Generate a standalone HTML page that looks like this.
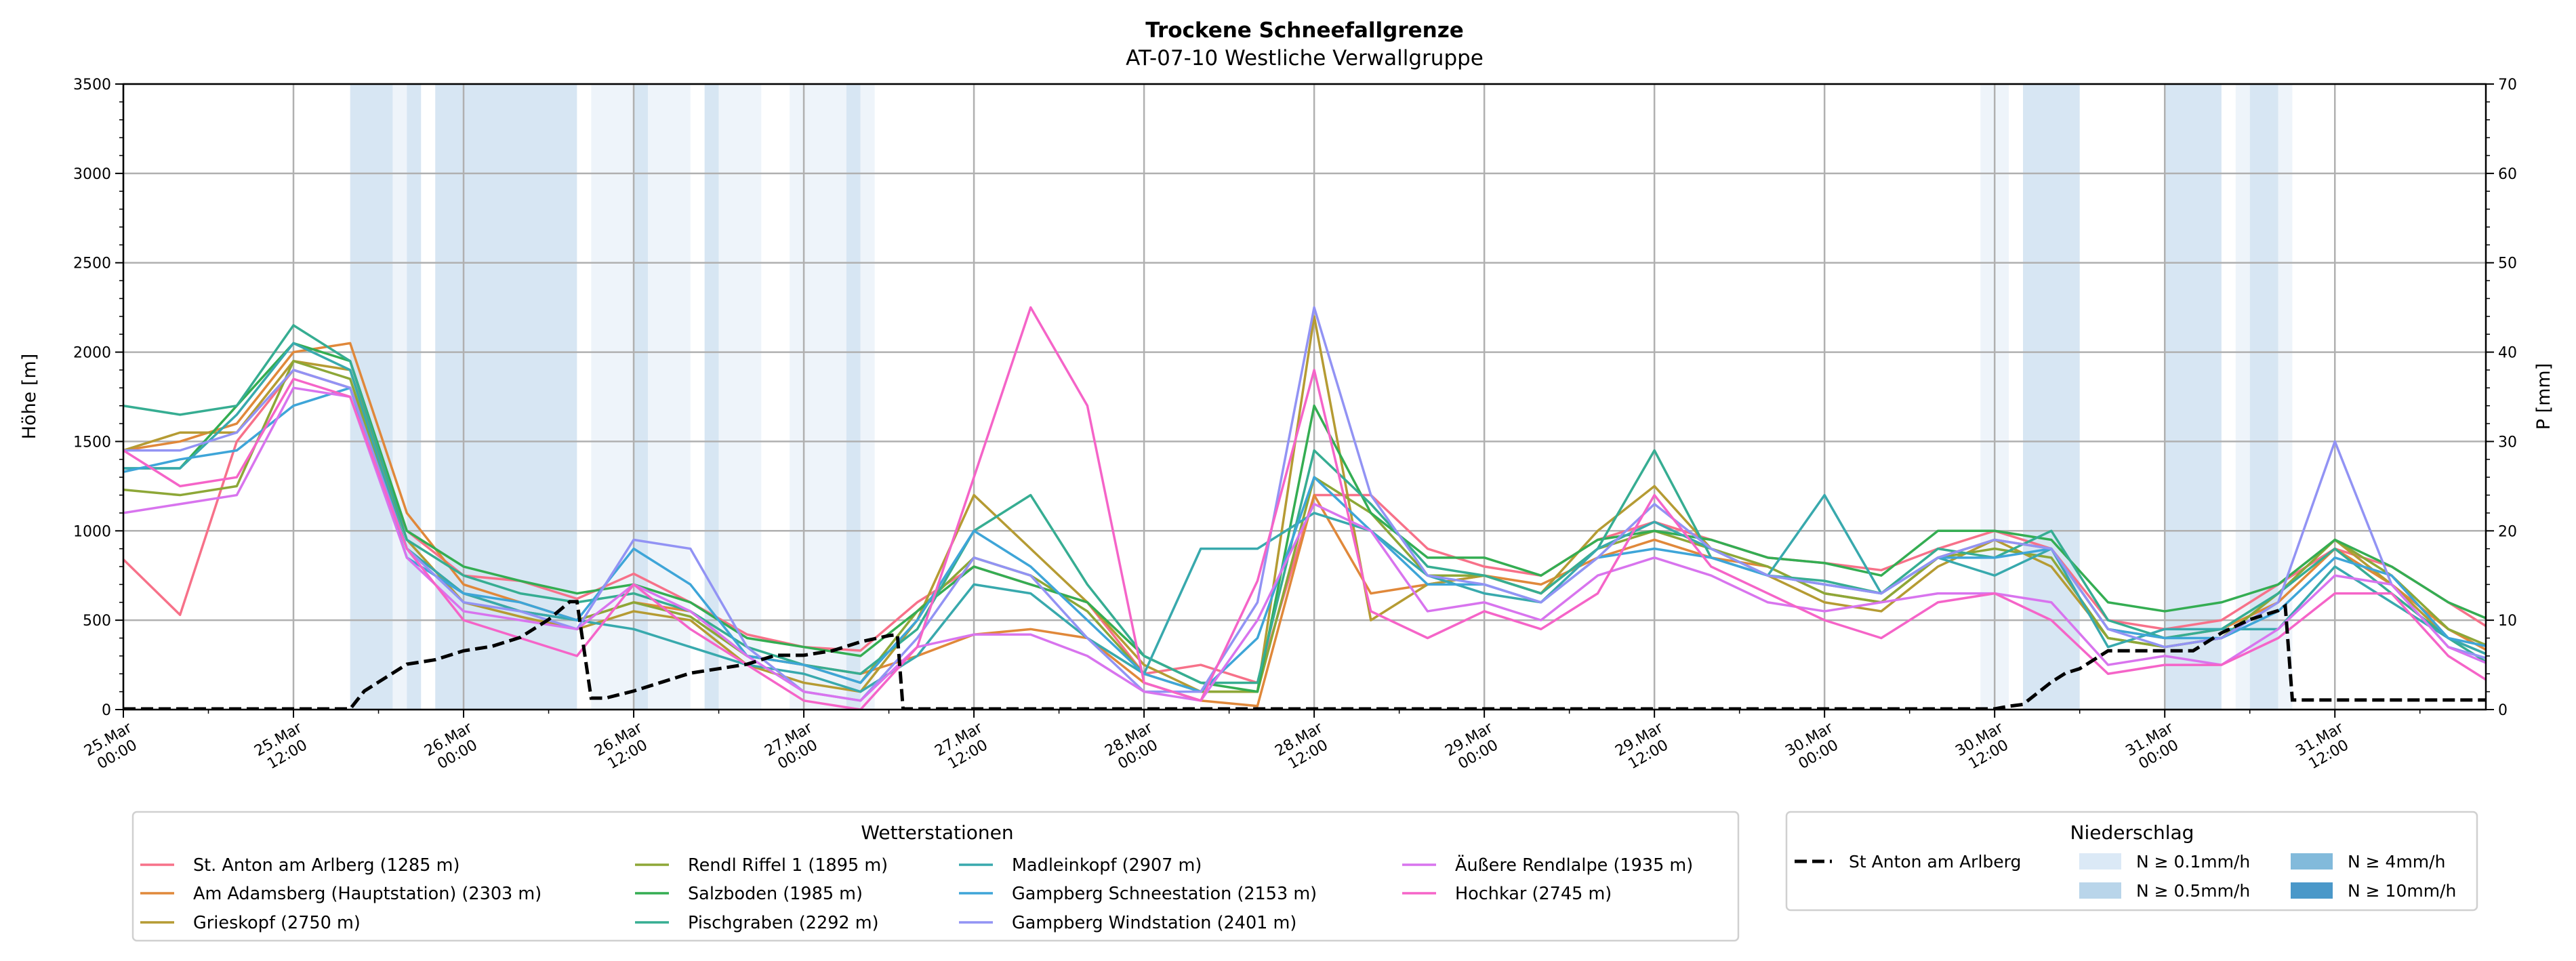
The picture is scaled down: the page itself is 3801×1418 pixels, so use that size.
<!DOCTYPE html>
<html><head><meta charset="utf-8"><style>
html,body{margin:0;padding:0;background:#fff;}
svg{display:block;font-family:"DejaVu Sans","Liberation Sans",sans-serif;}
</style></head><body>
<svg id="chart" width="3801" height="1418" viewBox="0 0 3801 1418" xmlns="http://www.w3.org/2000/svg">
<text x="1925" y="55" text-anchor="middle" font-size="31" font-weight="bold">Trockene Schneefallgrenze</text>
<text x="1925" y="96" text-anchor="middle" font-size="31">AT-07-10 Westliche Verwallgruppe</text>
<g id="bands"></g>
<g id="grid"></g>
<g id="series"></g>
<g id="precip"></g>
<rect x="182" y="124" width="3486" height="923" fill="none" stroke="#000" stroke-width="2.5"/>
<g id="axes"></g>
<text transform="translate(52,585) rotate(-90)" text-anchor="middle" font-size="27">Höhe [m]</text>
<text transform="translate(3762,585) rotate(-90)" text-anchor="middle" font-size="27">P [mm]</text>
<g id="legend1">
<rect x="196" y="1198" width="2369" height="190" rx="6" fill="#fff" stroke="#d0d0d0" stroke-width="2.5"/>
<text x="1383" y="1238" text-anchor="middle" font-size="28">Wetterstationen</text>
</g>
<g id="legend2">
<rect x="2636" y="1198" width="1019" height="145" rx="6" fill="#fff" stroke="#d0d0d0" stroke-width="2.5"/>
<text x="3146" y="1238" text-anchor="middle" font-size="28">Niederschlag</text>
</g>
</svg>
<script>
const hours = [0,4,8,12,16,20,24,28,32,36,40,44,48,52,56,60,64,68,72,76,80,84,88,92,96,100,104,108,112,116,120,124,128,132,136,140,144,148,152,156,160,164,167];
const stationNames = ["St. Anton am Arlberg (1285 m)","Am Adamsberg (Hauptstation) (2303 m)","Grieskopf (2750 m)","Rendl Riffel 1 (1895 m)","Salzboden (1985 m)","Pischgraben (2292 m)","Madleinkopf (2907 m)","Gampberg Schneestation (2153 m)","Gampberg Windstation (2401 m)","Äußere Rendlalpe (1935 m)","Hochkar (2745 m)"];
const stationColors = ["#f77189","#e0883a","#b59b33","#8da737","#34ad52","#36ad92","#38a9ad","#3ea5d8","#9293f4","#d874ee","#f564c8"];
const stAnton = [840,530,1500,1900,1800,1000,750,720,620,760,600,420,350,330,600,800,700,600,200,250,150,1200,1200,900,800,750,950,1050,950,850,820,780,900,1000,900,500,450,500,700,900,800,600,450];
const adamsberg = [1450,1500,1600,2000,2050,1100,700,600,500,600,550,300,250,200,300,420,450,400,150,50,20,1200,650,700,750,700,850,950,850,800,650,600,850,950,900,450,400,450,600,900,700,450,320];
const grieskopf = [1450,1550,1550,1950,1900,950,600,520,450,550,500,250,150,100,500,1200,900,600,250,100,100,2200,500,700,750,650,1000,1250,900,750,600,550,800,950,800,400,350,400,650,950,700,400,300];
const rendl = [1230,1200,1250,1950,1850,900,650,550,500,600,520,300,250,150,550,850,750,550,200,100,100,1300,1100,750,750,650,900,1000,900,800,650,600,850,900,850,400,350,400,650,950,750,450,350];
const salzboden = [1350,1350,1700,2050,1950,1000,800,720,650,700,600,400,350,300,550,800,700,600,300,150,100,1700,1100,850,850,750,950,1000,950,850,820,750,1000,1000,950,600,550,600,700,950,800,600,500];
const pischgraben = [1700,1650,1700,2150,1950,950,750,650,600,650,550,350,250,200,450,1000,1200,700,300,150,150,1450,1150,800,750,650,900,1450,850,750,720,650,900,850,1000,500,400,450,650,900,650,400,250];
const madleinkopf = [1350,1350,1650,2050,1900,900,650,550,500,450,350,250,200,100,300,700,650,400,200,900,900,1100,1000,750,650,600,900,1050,900,750,1200,650,850,750,900,350,450,450,450,800,600,400,300];
const gampSchnee = [1330,1400,1450,1700,1800,850,650,600,500,900,700,300,250,150,500,1000,800,500,200,100,400,1300,1000,700,700,600,850,900,850,750,700,650,850,850,900,450,400,400,550,850,750,400,350];
const gampWind = [1450,1450,1550,1900,1800,900,600,550,450,950,900,350,100,50,400,850,750,400,100,100,600,2250,1200,750,700,600,850,1150,900,750,700,650,850,950,900,450,350,400,600,1500,700,350,280];
const aeussere = [1100,1150,1200,1800,1750,850,550,500,450,700,550,300,100,50,350,420,420,300,100,50,500,1150,1000,550,600,500,750,850,750,600,550,600,650,650,600,250,300,250,450,750,700,350,250];
const hochkar = [1450,1250,1300,1850,1750,900,500,400,300,700,450,250,50,0,350,1300,2250,1700,150,50,720,1900,550,400,550,450,650,1200,800,650,500,400,600,650,500,200,250,250,400,650,650,300,150];
const seriesList = [stAnton,adamsberg,grieskopf,rendl,salzboden,pischgraben,madleinkopf,gampSchnee,gampWind,aeussere,hochkar];
const precipHours = [0,16,17,18,20,22,24,26,28,30,31.5,32,33,34,36,38,40,42,44,46,48,50,52,54,54.6,55,132,133,134,136,137,138,140,146,148,150,152,152.5,153,167];
const precipValues = [0,0,2,3,5,5.5,6.5,7,8,10,12,12,1.2,1.2,2,3,4,4.5,5,6,6,6.5,7.5,8.2,8.3,0,0,0.3,0.5,3,4,4.5,6.5,6.5,8.5,10,11,11.5,1,1];
const bandStart = [16,19,20,22,33,36,37,41,42,47,51,52,131,134,144,149,150,152];
const bandEnd   = [19,20,21,32,36,37,40,42,45,51,52,53,133,138,148,150,152,153];
const bandLevel = [2,1,2,2,1,2,1,2,1,1,2,1,1,2,2,1,2,1];
const yTicks = [0,500,1000,1500,2000,2500,3000,3500];
const y2Ticks = [0,10,20,30,40,50,60,70];
const xTickDates = ["25.Mar","25.Mar","26.Mar","26.Mar","27.Mar","27.Mar","28.Mar","28.Mar","29.Mar","29.Mar","30.Mar","30.Mar","31.Mar","31.Mar"];
const xTickTimes = ["00:00","12:00","00:00","12:00","00:00","12:00","00:00","12:00","00:00","12:00","00:00","12:00","00:00","12:00"];

const NS="http://www.w3.org/2000/svg";
const X0=182,X1=3668,Y0=1047,Y1=124,HMAX=166.65;
const xS=h=>X0+(h/HMAX)*(X1-X0);
const yS=v=>Y0-(v/3500)*(Y0-Y1);
const y2S=v=>Y0-(v/70)*(Y0-Y1);
function mk(tag,attrs,parent){const e=document.createElementNS(NS,tag);for(const k in attrs)e.setAttribute(k,attrs[k]);parent.appendChild(e);return e;}
const bands=document.getElementById('bands'),grid=document.getElementById('grid'),ser=document.getElementById('series'),pr=document.getElementById('precip'),axes=document.getElementById('axes');
const bandColors={1:"#eef4fa",2:"#d7e6f3",3:"#9cc8e4",4:"#5fa3d0"};
bandStart.forEach((s,i)=>{
  const r=mk('rect',{x:xS(s),y:Y1,width:xS(bandEnd[i])-xS(s),height:Y0-Y1,fill:bandColors[bandLevel[i]]},bands);
  
  
});
yTicks.forEach((t,i)=>{
  const l=mk('line',{x1:X0,x2:X1,y1:yS(t),y2:yS(t),stroke:"#b0b0b0","stroke-width":2.5},grid);
  
  
  mk('line',{x1:X0-12,x2:X0,y1:yS(t),y2:yS(t),stroke:"#000","stroke-width":2},axes);
  const tx=mk('text',{x:X0-18,y:yS(t)+8,"text-anchor":"end","font-size":22},axes);tx.textContent=t;
  
  
});
for(let v=0;v<=3500;v+=100){if(v%500)mk('line',{x1:X0-6,x2:X0,y1:yS(v),y2:yS(v),stroke:"#000","stroke-width":1.5},axes);}
y2Ticks.forEach(t=>{
  mk('line',{x1:X1,x2:X1+12,y1:y2S(t),y2:y2S(t),stroke:"#000","stroke-width":2},axes);
  const tx=mk('text',{x:X1+18,y:y2S(t)+8,"font-size":22},axes);tx.textContent=t;
  
  
});
for(let v=0;v<=70;v+=2){if(v%10)mk('line',{x1:X1,x2:X1+6,y1:y2S(v),y2:y2S(v),stroke:"#000","stroke-width":1.5},axes);}
xTickDates.forEach((d,i)=>{
  const h=i*12,x=xS(h);
  const l=mk('line',{x1:x,x2:x,y1:Y1,y2:Y0,stroke:"#b0b0b0","stroke-width":2.5},grid);
  
  
  mk('line',{x1:x,x2:x,y1:Y0,y2:Y0+12,stroke:"#000","stroke-width":2},axes);
  mk('line',{x1:xS(h+6),x2:xS(h+6),y1:Y0,y2:Y0+6,stroke:"#000","stroke-width":1.5},axes);
  const g=mk('g',{transform:`translate(${x+10},${Y0+24}) rotate(-30)`},axes);
  
  
  const t1=mk('text',{x:0,y:8,"text-anchor":"end","font-size":22},g);t1.textContent=d;
  const t2=mk('text',{x:-6,y:34,"text-anchor":"end","font-size":22},g);t2.textContent=xTickTimes[i];
});
const clip=mk('clipPath',{id:'pc'},document.getElementById('chart'));mk('rect',{x:X0,y:Y1,width:X1-X0,height:Y0-Y1},clip);
ser.setAttribute('clip-path','url(#pc)');
seriesList.forEach((vals,i)=>{
  const p=mk('polyline',{points:vals.map((v,j)=>xS(hours[j])+','+yS(v)).join(' '),fill:'none',stroke:stationColors[i],'stroke-width':3.5,'stroke-linejoin':'round'},ser);
  
  
});
pr.setAttribute('clip-path','url(#pc)');
const pl=mk('polyline',{points:precipValues.map((v,j)=>xS(precipHours[j])+','+(y2S(v)-1)).join(' '),fill:'none',stroke:'#000','stroke-width':5,'stroke-dasharray':'18,8'},pr);


const lg1=document.getElementById('legend1');
const colX=[207,937,1415,2069],rowY=[1276,1318,1361];
const layout=[[0,0],[0,1],[0,2],[1,0],[1,1],[1,2],[2,0],[2,1],[2,2],[3,0],[3,1]];
stationNames.forEach((n,i)=>{
  const [c,r]=layout[i];
  const g=mk('g',{},lg1);
  
  
  mk('line',{x1:colX[c],x2:colX[c]+50,y1:rowY[r],y2:rowY[r],stroke:stationColors[i],'stroke-width':3.5},g);
  const t=mk('text',{x:colX[c]+78,y:rowY[r]+9,'font-size':25.5},g);t.textContent=n;
});
const lg2=document.getElementById('legend2');
const g0=mk('g',{},lg2);


mk('line',{x1:2648,x2:2703,y1:1271,y2:1271,stroke:'#000','stroke-width':5,'stroke-dasharray':'18,8'},g0);
const t0=mk('text',{x:2728,y:1280,'font-size':25},g0);t0.textContent='St Anton am Arlberg';
const pLabels=["N ≥ 0.1mm/h","N ≥ 0.5mm/h","N ≥ 4mm/h","N ≥ 10mm/h"];
const pCols=["#dbe9f6","#b9d5ea","#82badb","#4a98c9"];
const pPos=[[3068,1271],[3068,1314],[3380,1271],[3380,1314]];
pLabels.forEach((l,i)=>{
  const g=mk('g',{},lg2);
  
  
  mk('rect',{x:pPos[i][0],y:pPos[i][1]-12,width:62,height:24,fill:pCols[i]},g);
  const t=mk('text',{x:pPos[i][0]+84,y:pPos[i][1]+9,'font-size':25},g);t.textContent=l;
});
</script>
</body></html>
